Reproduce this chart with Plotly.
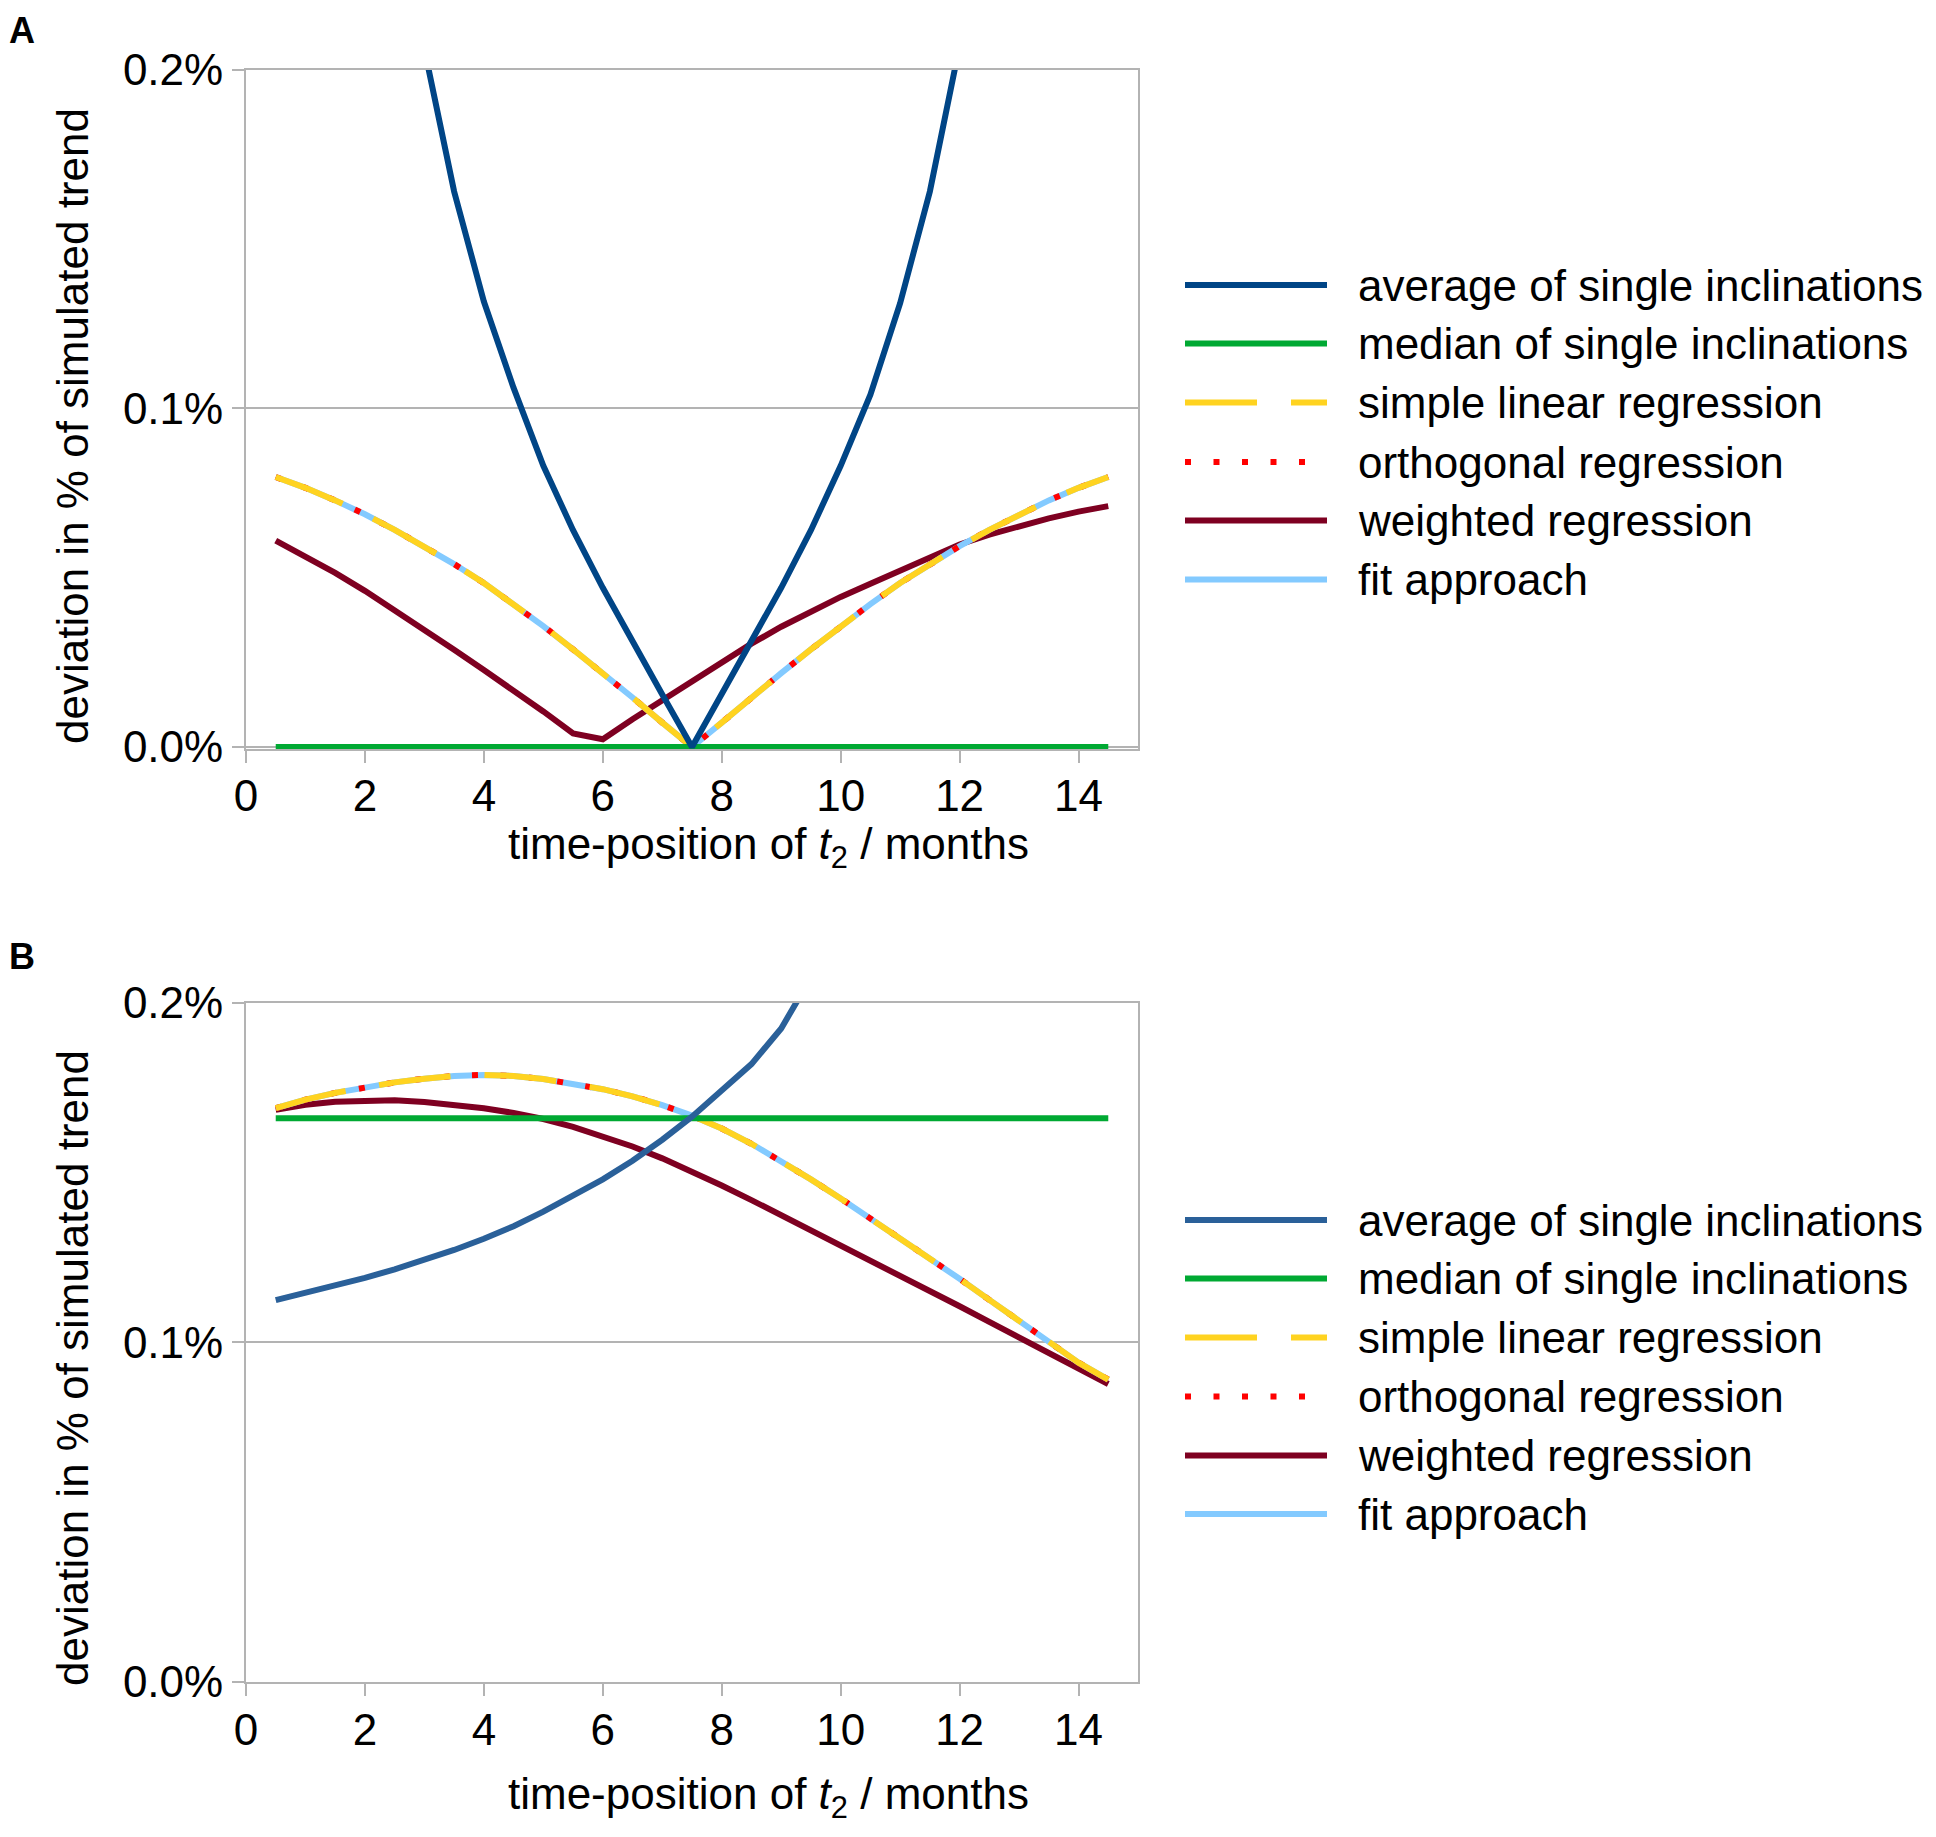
import plotly.graph_objects as go

# ---------------- data ----------------
months = [0.5, 1.0, 1.5, 2.0, 2.5, 3.0, 3.5, 4.0, 4.5, 5.0, 5.5, 6.0, 6.5, 7.0, 7.5,
          8.0, 8.5, 9.0, 9.5, 10.0, 10.5, 11.0, 11.5, 12.0, 12.5, 13.0, 13.5, 14.0, 14.5]

# Panel A (values in % of simulated trend)
avg_A_months = [3.0, 3.5, 4.0, 4.5, 5.0, 5.5, 6.0, 6.5, 7.0, 7.5,
                8.0, 8.5, 9.0, 9.5, 10.0, 10.5, 11.0, 11.5, 12.0]
avg_A = [0.206, 0.1640, 0.1315, 0.1060, 0.0830, 0.0640, 0.0470, 0.0310, 0.0155, 0.0,
         0.0155, 0.0310, 0.0470, 0.0640, 0.0830, 0.1040, 0.1310, 0.1640, 0.207]
median_A = [0.0] * 29
simple_A = [0.0797, 0.0765, 0.0728, 0.0687, 0.0641, 0.0593, 0.0540, 0.0484, 0.0422, 0.0357,
            0.0288, 0.0218, 0.0146, 0.0072, 0.0, 0.0072, 0.0146, 0.0218, 0.0288, 0.0357,
            0.0422, 0.0484, 0.0540, 0.0593, 0.0641, 0.0687, 0.0728, 0.0765, 0.0797]
orthogonal_A = list(simple_A)
fit_A = list(simple_A)
weighted_A = [0.0609, 0.0563, 0.0514, 0.0461, 0.0404, 0.0346, 0.0287, 0.0227, 0.0167, 0.0105,
              0.0040, 0.0023, 0.0082, 0.0139, 0.0196, 0.0248, 0.0305, 0.0355, 0.0400, 0.0443,
              0.0482, 0.0520, 0.0560, 0.0598, 0.0627, 0.0652, 0.0675, 0.0695, 0.0711]

# Panel B
avg_B_months = [0.5, 1.0, 1.5, 2.0, 2.5, 3.0, 3.5, 4.0, 4.5, 5.0,
                5.5, 6.0, 6.5, 7.0, 7.5, 8.0, 8.5, 9.0, 9.5]
avg_B = [0.1124, 0.1145, 0.1168, 0.1190, 0.1215, 0.1242, 0.1272, 0.1305, 0.1342, 0.1385,
         0.1432, 0.1480, 0.1535, 0.1597, 0.1665, 0.1740, 0.1820, 0.1925, 0.2075]
median_B = [0.1660] * 29
simple_B = [0.1690, 0.1715, 0.1735, 0.1752, 0.1766, 0.1777, 0.1785, 0.1788, 0.1785, 0.1776,
            0.1763, 0.1746, 0.1725, 0.1699, 0.1668, 0.1630, 0.1585, 0.1535, 0.1480, 0.1424,
            0.1366, 0.1308, 0.1248, 0.1187, 0.1125, 0.1063, 0.1000, 0.0940, 0.0890]
orthogonal_B = list(simple_B)
fit_B = list(simple_B)
weighted_B = [0.1685, 0.1700, 0.1709, 0.1713, 0.1713, 0.1708, 0.1700, 0.1690, 0.1676, 0.1658,
              0.1635, 0.1608, 0.1577, 0.1542, 0.1503, 0.1462, 0.1419, 0.1375, 0.1331, 0.1287,
              0.1242, 0.1197, 0.1152, 0.1106, 0.1060, 0.1014, 0.0968, 0.0922, 0.0877]

series_names = ["average of single inclinations", "median of single inclinations",
                "simple linear regression", "orthogonal regression",
                "weighted regression", "fit approach"]
x_tick_values = [0, 2, 4, 6, 8, 10, 12, 14]
y_tick_values = [0.0, 0.1, 0.2]
y_tick_labels = ["0.0%", "0.1%", "0.2%"]
x_title = "time-position of <i>t</i><sub>2</sub> / months"
y_title = "deviation in % of simulated trend"

# ---------------- styling ----------------
PAGE_OFF = 8            # default body margin of the page
W, H = 1936 - 2 * PAGE_OFF, 1837 - 2 * PAGE_OFF
FONT = "Liberation Sans, Arial, sans-serif"
GRID = "#b3b3b3"
LW = 6
styles = {
    "avg_A": dict(color="#004586", width=LW),
    "avg_B": dict(color="#2a6099", width=LW),
    "median": dict(color="#00a933", width=LW),
    "simple": dict(color="#ffd320", width=LW, dash="72px,34px"),
    "orthogonal": dict(color="#ff0000", width=LW, dash="6px,22.5px"),
    "weighted": dict(color="#7e0021", width=LW),
    "fit": dict(color="#83caff", width=LW),
}


def px(x):
    return (x - PAGE_OFF) / W


def py(y):
    return 1 - (y - PAGE_OFF) / H


fig = go.Figure()


def add_panel(xa, ya, avg_x, avg_y, avg_style, med, simp, orth, wtd, fit):
    common = dict(xaxis=xa, yaxis=ya, mode="lines", showlegend=False, hoverinfo="x+y")
    fig.add_trace(go.Scatter(x=months, y=wtd, name=series_names[4], line=styles["weighted"], **common))
    fig.add_trace(go.Scatter(x=months, y=fit, name=series_names[5], line=styles["fit"], **common))
    fig.add_trace(go.Scatter(x=months, y=orth, name=series_names[3], line=styles["orthogonal"], **common))
    fig.add_trace(go.Scatter(x=months, y=simp, name=series_names[2], line=styles["simple"], **common))
    fig.add_trace(go.Scatter(x=months, y=med, name=series_names[1], line=styles["median"], **common))
    fig.add_trace(go.Scatter(x=avg_x, y=avg_y, name=series_names[0], line=avg_style, **common))


add_panel("x", "y", avg_A_months, avg_A, styles["avg_A"], median_A, simple_A, orthogonal_A,
          weighted_A, fit_A)
add_panel("x2", "y2", avg_B_months, avg_B, styles["avg_B"], median_B, simple_B, orthogonal_B,
          weighted_B, fit_B)

axis_common = dict(showline=True, linecolor=GRID, linewidth=2, mirror=True, automargin=False,
                   ticks="outside", ticklen=12, tickwidth=2, tickcolor=GRID,
                   tickfont=dict(family=FONT, size=44, color="#000000"), zeroline=False)
xaxis_common = dict(range=[0, 15], tickmode="array", tickvals=x_tick_values, showgrid=False, **axis_common)
yaxis_common = dict(tickmode="array", tickvals=y_tick_values, ticktext=y_tick_labels,
                    showgrid=True, gridcolor=GRID, gridwidth=2, **axis_common)

# panel A: a hair of room below 0 so the median line on 0 is not cut by the plot clip
A_PX_PER_UNIT = (747 - 69.5) / 0.2
A_PAD = 2 / A_PX_PER_UNIT
xdom = [px(246), px(1138)]
fig.update_layout(
    width=W, height=H,
    margin=dict(l=0, r=0, t=0, b=0, autoexpand=False),
    paper_bgcolor="white", plot_bgcolor="white",
    font=dict(family=FONT, size=44, color="#000000"),
    xaxis=dict(domain=xdom, anchor="y", ticklabelstandoff=-5, **xaxis_common),
    yaxis=dict(domain=[py(747 + 2), py(69.5)], anchor="x",
               range=[-A_PAD, 0.2], **yaxis_common),
    xaxis2=dict(domain=xdom, anchor="y2", ticklabelstandoff=-3, **xaxis_common),
    yaxis2=dict(domain=[py(1681.5), py(1003)], anchor="x2", range=[0, 0.2], **yaxis_common),
)

annotations = []
shapes = []
# panel labels
annotations.append(dict(text="<b>A</b>", x=px(21.5), y=1, xref="paper", yref="paper",
                        showarrow=False, xanchor="center", yanchor="top", font=dict(size=36)))
annotations.append(dict(text="<b>B</b>", x=px(21.5), y=py(956), xref="paper", yref="paper",
                        showarrow=False, xanchor="center", yanchor="middle", font=dict(size=36)))
# axis titles
for xc, yc in [(768, 847), (768, 1797)]:
    annotations.append(dict(text=x_title, x=px(xc), y=py(yc), xref="paper", yref="paper",
                            showarrow=False, xanchor="center", yanchor="middle", font=dict(size=44)))
for yc in [426, 1368]:
    annotations.append(dict(text=y_title, x=px(72), y=py(yc), xref="paper", yref="paper",
                            showarrow=False, xanchor="center", yanchor="middle", textangle=-90,
                            font=dict(size=44)))

# legends (one per panel)
legend_styles = [None, styles["median"], styles["simple"], styles["orthogonal"],
                 styles["weighted"], styles["fit"]]
legend_rows = {"A": [285, 343.5, 402.5, 462, 520.5, 579.5],
               "B": [1220, 1278.5, 1337.5, 1396.5, 1455.5, 1514]}
for panel, rows in legend_rows.items():
    for i, yrow in enumerate(rows):
        st = legend_styles[i] if i > 0 else (styles["avg_A"] if panel == "A" else styles["avg_B"])
        line = dict(color=st["color"], width=st["width"])
        if "dash" in st:
            line["dash"] = st["dash"]
        shapes.append(dict(type="line", xref="paper", yref="paper",
                           x0=px(1185), x1=px(1327), y0=py(yrow), y1=py(yrow), line=line))
        annotations.append(dict(text=series_names[i], x=px(1356), y=py(yrow), xref="paper", yref="paper",
                                showarrow=False, xanchor="left", yanchor="middle", font=dict(size=44)))

fig.update_layout(annotations=annotations, shapes=shapes)
fig.write_html("out.html")
